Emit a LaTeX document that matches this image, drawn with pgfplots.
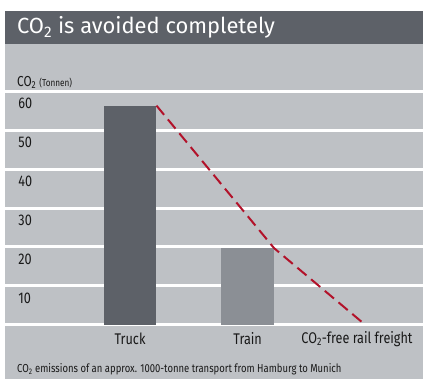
\documentclass[border=0pt]{standalone}
\usepackage{fontspec}
\setmainfont{Fira Sans}
\newfontfamily\cond[FakeStretch=0.82]{Fira Sans}
\usepackage{pgfplots}
\pgfplotsset{compat=1.18}
\definecolor{darkband}{RGB}{93,97,104}
\definecolor{panel}{RGB}{190,193,197}
\definecolor{trainbar}{RGB}{139,143,149}
\definecolor{redline}{RGB}{178,18,42}
\definecolor{txt}{RGB}{25,25,25}
\begin{document}
\begin{tikzpicture}[x=1bp,y=1bp]
\fill[white] (0,0) rectangle (424,380);
\fill[panel] (5,0) rectangle (424,336);
\fill[darkband] (5,336) rectangle (424,369);
\node[anchor=base west, text=white, inner sep=0pt, font=\fontsize{22bp}{24bp}\selectfont] at (17,346) {CO\textsubscript{2} is avoided completely};
\node[anchor=base west, text=txt, inner sep=0pt] at (17,293) {\cond\fontsize{14.5bp}{16bp}\selectfont CO\textsubscript{2} {\fontsize{10bp}{12bp}\selectfont (Tonnen)}};
\node[anchor=base west, text=txt, inner sep=0pt] at (17,6) {\cond\fontsize{11.6bp}{14bp}\selectfont CO\textsubscript{2} emissions of an approx. 1000-tonne transport from Hamburg to Munich};
\begin{axis}[
  at={(5bp,54bp)}, anchor=south west,
  scale only axis, width=419bp, height=234.5bp,
  xmin=-1.0636, xmax=2.487, ymin=0, ymax=60,
  axis line style={draw=none},
  major tick length=0pt,
  ytick={0,10,20,30,40,50,60},
  yticklabels={,10,20,30,40,50,60},
  ymajorgrids,
  major grid style={white, line width=3bp},
  xtick={0,1,1.93},
  xticklabels={Truck,Train,CO\textsubscript{2}-free rail freight},
  ticklabel style={font=\cond\fontsize{15.5bp}{17bp}\selectfont, text=txt},
  yticklabel style={anchor=west, xshift=10bp, yshift=-12bp},
  xticklabel style={anchor=center, yshift=-14bp},
  /pgf/number format/assume math mode=true,
  clip=false,
]
\addplot[ybar, bar width=53bp, bar shift=0pt, fill=darkband, draw=none] coordinates {(0,56.3)};
\addplot[ybar, bar width=53bp, bar shift=0pt, fill=trainbar, draw=none] coordinates {(1,19.7)};
\addplot[redline, line width=2bp, dash pattern=on 12bp off 6bp, line join=round] coordinates {(0.2246,56.3) (1.2246,19.7) (2.0,0)};
\end{axis}
\end{tikzpicture}
\end{document}
